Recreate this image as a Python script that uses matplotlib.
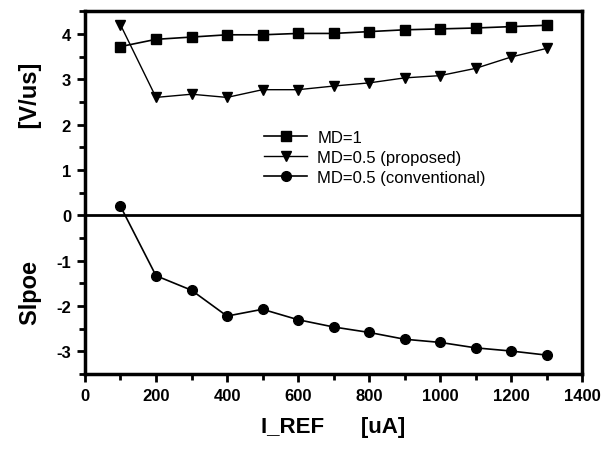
import matplotlib.pyplot as plt
from matplotlib.ticker import MultipleLocator

plt.rcParams["font.family"] = ["Liberation Sans", "DejaVu Sans"]
plt.rcParams["axes.unicode_minus"] = False

i_ref = [100, 200, 300, 400, 500, 600, 700, 800, 900, 1000, 1100, 1200, 1300]
md_1 = [3.72, 3.88, 3.93, 3.98, 3.98, 4.01, 4.01, 4.05, 4.09, 4.11, 4.13, 4.16, 4.19]
md_05_prop = [4.2, 2.6, 2.67, 2.6, 2.77, 2.77, 2.85, 2.92, 3.03, 3.08, 3.24, 3.49, 3.68]
md_05_conv = [0.2, -1.33, -1.65, -2.22, -2.07, -2.3, -2.46, -2.58, -2.73, -2.8, -2.92, -2.99, -3.08]

fig = plt.figure(figsize=(6.07, 4.52), dpi=100)
ax = fig.add_axes([0.140, 0.170, 0.819, 0.803])

ax.axhline(0, color='k', linewidth=2.0, zorder=1)
ax.plot(i_ref, md_1, '-s', color='k', markersize=7, linewidth=1.2, label='MD=1')
ax.plot(i_ref, md_05_prop, '-v', color='k', markersize=7, linewidth=1.0, label='MD=0.5 (proposed)')
ax.plot(i_ref, md_05_conv, '-o', color='k', markersize=7, linewidth=1.2, label='MD=0.5 (conventional)')

ax.set_xlim(0, 1400)
ax.set_ylim(-3.5, 4.5)
ax.xaxis.set_major_locator(MultipleLocator(200))
ax.xaxis.set_minor_locator(MultipleLocator(100))
ax.yaxis.set_minor_locator(MultipleLocator(0.5))
ax.set_yticks([-3, -2, -1, 0, 1, 2, 3, 4])

for s in ax.spines.values():
    s.set_linewidth(2.5)
ax.tick_params(which='major', direction='out', length=6, width=2, labelsize=12, pad=4)
ax.tick_params(which='minor', direction='out', length=4, width=2)
for lbl in ax.get_xticklabels() + ax.get_yticklabels():
    lbl.set_fontweight('bold')

ax.set_xlabel('I_REF      [uA]', fontsize=16, fontweight='bold', labelpad=9)
ax.set_ylabel('Slpoe                    [V/us]', fontsize=17, fontweight='bold', labelpad=10)

leg = ax.legend(loc='upper left', bbox_to_anchor=(0.33, 0.715), frameon=False,
                fontsize=12, handlelength=2.6, labelspacing=0.3, handletextpad=0.6)

fig.savefig('out.png', dpi=100)
